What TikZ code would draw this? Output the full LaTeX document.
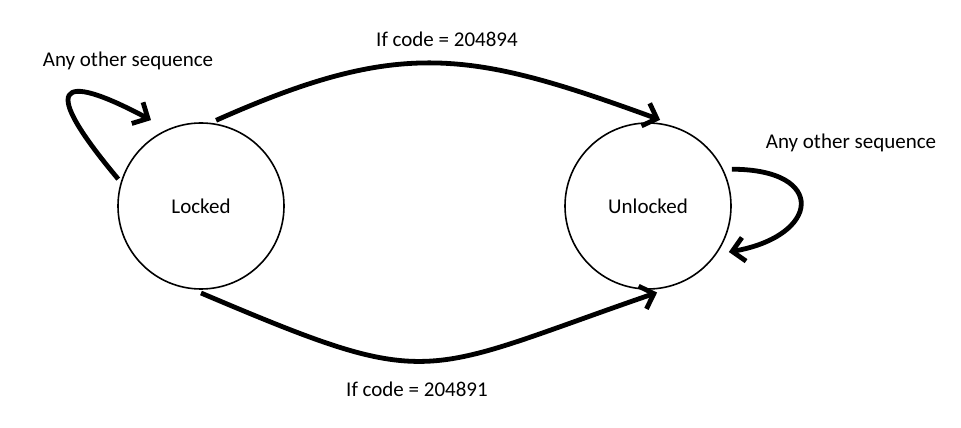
\documentclass[tikz,border=0pt]{standalone}
\usepackage{fontspec}
\setmainfont{Carlito}
\usetikzlibrary{positioning}
\usetikzlibrary{arrows.meta}
\tikzset{
	every node/.style = {font=\fontsize{21}{25}\selectfont},
	statenode/.style = {circle, draw, line width=1.6pt, minimum size=166pt, inner sep=0pt, outer sep=4pt},
	trans/.style = {-{Straight Barb[length=12pt, width=24pt]}, line width=4.8pt, black}
}

\begin{document}
\begin{tikzpicture}[x=1pt, y=1pt]
		\useasboundingbox (0,0) rectangle (961,428);
		% states
		\foreach \name/\x/\txt in {locked/201/Locked, unlocked/648/Unlocked}
			\node[statenode] (\name) at (\x,222) {\txt};
		% transitions
		\draw[trans] (locked.80) to[out=24, in=160, looseness=1.17] (unlocked.82);
		\draw[trans] (locked.270) to[out=-23, in=-161, looseness=1.43] (unlocked.276);
		% loops
		\draw[trans, shorten >=15pt] (locked.162) to[out=130, in=152, looseness=4.5] (locked.115);
		\draw[trans, shorten <=5pt, shorten >=8pt] (unlocked.25) to[out=0, in=10, looseness=3.06] (unlocked.-33);
		% labels
		\node (toplabel) at (447,389) {If code = 204894};
		\node (bottomlabel) at (417,39) {If code = 204891};
		\node (lockedloop) at (128,367.5) {Any other sequence};
		\node (unlockedloop) at (851,285) {Any other sequence};
	\end{tikzpicture}
\end{document}
